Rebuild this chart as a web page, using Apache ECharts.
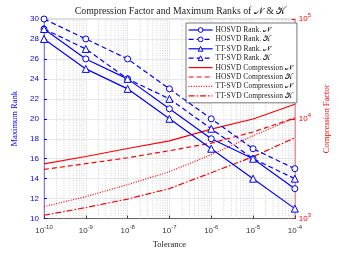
<!DOCTYPE html>
<html><head><meta charset="utf-8">
<script src="https://cdn.jsdelivr.net/npm/echarts@6/dist/echarts.min.js"></script>
<style>html,body{margin:0;padding:0;background:#fff}#c{width:339px;height:254px}</style>
</head><body><div id="c"></div>
<script>
const tolerance = [1e-10, 1e-9, 1e-8, 1e-7, 1e-6, 1e-5, 1e-4];
const hosvdRankN = [29, 26, 24, 21, 18, 16, 13];
const hosvdRankK = [30, 28, 26, 23, 20, 17, 15];
const ttRankN = [28, 25, 23, 20, 17, 14, 11];
const ttRankK = [29, 27, 24, 22, 19, 16, 14];
const hosvdCompN = [3530, 4190, 5040, 6000, 7870, 9950, 14000];
const hosvdCompK = [3110, 3550, 4070, 4790, 5710, 7380, 10200];
const ttCompN = [1320, 1660, 2190, 2950, 4370, 6760, 10200];
const ttCompK = [1080, 1290, 1570, 2000, 2880, 4170, 6460];
const seriesNames = ['HOSVD Rank. 𝒩','HOSVD Rank. 𝒦','TT-SVD Rank. 𝒩','TT-SVD Rank. 𝒦',
  'HOSVD Compression 𝒩','HOSVD Compression 𝒦','TT-SVD Compression 𝒩','TT-SVD Compression 𝒦'];

const BLUE = '#0000ff', RED = '#ff0000';
const DASH = [5, 3], DOT = [1, 1.5], DASHDOT = [6, 2, 1.5, 2];
const pair = arr => arr.map((v, i) => [tolerance[i], v]);
const minorX = [];
for (let e = -10; e < -4; e++) for (let k = 2; k <= 9; k++) minorX.push([k * Math.pow(10, e)]);

function rankSeries(name, data, dashed, sym) {
  return {name, type: 'line', yAxisIndex: 0, data: pair(data), symbol: sym, symbolSize: sym === 'circle' ? 6 : 7,
    itemStyle: {color: '#fff', borderColor: BLUE, borderWidth: 1},
    lineStyle: {color: BLUE, width: 1.2, type: dashed ? DASH : 'solid'}, color: BLUE, z: 5};
}
function compSeries(name, data, type) {
  return {name, type: 'line', yAxisIndex: 1, data: pair(data), symbol: 'none',
    lineStyle: {color: RED, width: 1.2, type}, itemStyle: {color: RED}, color: RED, z: 4};
}
const expFmt = v => { const e = Math.round(Math.log10(v)); return '{b|10}{s|' + e + '}'; };
const rich = (col) => ({b: {fontSize: 8, color: col, fontFamily: 'Liberation Sans'},
  s: {fontSize: 6, color: col, fontFamily: 'Liberation Sans', padding: [0, 0, 7, 0]}});

const legendTypes = ['solid', DASH, 'solid', DASH, 'solid', DASH, DOT, DASHDOT];
const legendData = seriesNames.map((n, i) => {
  const item = {name: n, lineStyle: {type: legendTypes[i], width: 1.2, color: i < 4 ? BLUE : RED}};
  item.itemStyle = i < 4 ? {color: '#fff', borderColor: BLUE, borderWidth: 1}
                         : {color: 'rgba(0,0,0,0)', borderColor: 'rgba(0,0,0,0)', borderWidth: 0, opacity: 0};
  return item;
});

const chart = echarts.init(document.getElementById('c'), null, {renderer: 'canvas'});
chart.setOption({
  animation: false,
  backgroundColor: '#fff',
  title: {text: 'Compression Factor and Maximum Ranks of 𝒩 & 𝒦', left: 175, top: 1, textAlign: 'center',
    textStyle: {fontSize: 9.8, fontWeight: 'normal', color: '#222', fontFamily: 'Liberation Serif'}},
  grid: {left: 44, right: 33, top: 19, bottom: 28, show: true, borderColor: '#aaa', borderWidth: 0.8, backgroundColor: '#fff'},
  legend: {data: legendData, orient: 'vertical', left: 186, top: 23, itemGap: 1.4,
    itemWidth: 24, itemHeight: 6, padding: [3, 4, 3, 2], backgroundColor: '#fff', borderColor: '#555', borderWidth: 0.8,
    borderRadius: 0,
    textStyle: {fontSize: 7.5, color: '#222', fontFamily: 'Liberation Serif', padding: [0, 0, 0, -2]}},
  xAxis: {type: 'log', min: 1e-10, max: 1e-4, logBase: 10,
    name: 'Tolerance', nameLocation: 'middle', nameGap: 16,
    nameTextStyle: {fontSize: 8.5, color: '#222', fontFamily: 'Liberation Serif'},
    axisLine: {lineStyle: {color: '#444', width: 0.8}},
    axisTick: {inside: true, length: 3, lineStyle: {color: '#444'}},
    axisLabel: {formatter: expFmt, rich: rich('#333'), margin: 6},
    splitLine: {show: true, lineStyle: {color: '#e2e2ee', width: 0.8}}},
  yAxis: [
    {type: 'value', min: 10, max: 30, interval: 2, position: 'left',
      name: 'Maximum Rank', nameLocation: 'middle', nameGap: 19,
      nameTextStyle: {fontSize: 8.5, color: BLUE, fontFamily: 'Liberation Serif'},
      axisLine: {show: true, lineStyle: {color: '#6666ff', width: 0.8}},
      axisTick: {show: true, inside: true, length: 3, lineStyle: {color: BLUE}},
      axisLabel: {fontSize: 8, color: BLUE, fontFamily: 'Liberation Sans', margin: 5},
      splitLine: {show: true, lineStyle: {color: '#e2e2ee', width: 0.8}}},
    {type: 'log', min: 1e3, max: 1e5, logBase: 10, position: 'right',
      name: 'Compression Factor', nameLocation: 'middle', nameGap: 21, nameRotate: 90,
      nameTextStyle: {fontSize: 8.5, color: RED, fontFamily: 'Liberation Serif'},
      axisLine: {show: true, lineStyle: {color: '#ff7777', width: 0.8}},
      axisTick: {show: true, inside: true, length: 3, lineStyle: {color: RED}},
      axisLabel: {formatter: expFmt, rich: rich(RED), margin: 4},
      splitLine: {show: false}}
  ],
  series: [
    {type: 'custom', name: 'minor-grid', data: minorX, yAxisIndex: 0, silent: true, z: 1,
      encode: {x: 0},
      renderItem: (params, api) => {
        const x = api.value(0);
        const p1 = api.coord([x, 10]), p2 = api.coord([x, 30]);
        return {type: 'line', shape: {x1: p1[0], y1: p1[1], x2: p2[0], y2: p2[1]},
          style: {stroke: '#bdbdbd', lineWidth: 0.7, lineDash: [1, 1.5]}};
      }},
    rankSeries(seriesNames[0], hosvdRankN, false, 'circle'),
    rankSeries(seriesNames[1], hosvdRankK, true, 'circle'),
    rankSeries(seriesNames[2], ttRankN, false, 'triangle'),
    rankSeries(seriesNames[3], ttRankK, true, 'triangle'),
    compSeries(seriesNames[4], hosvdCompN, 'solid'),
    compSeries(seriesNames[5], hosvdCompK, DASH),
    compSeries(seriesNames[6], ttCompN, DOT),
    compSeries(seriesNames[7], ttCompK, DASHDOT)
  ]
});
</script></body></html>
